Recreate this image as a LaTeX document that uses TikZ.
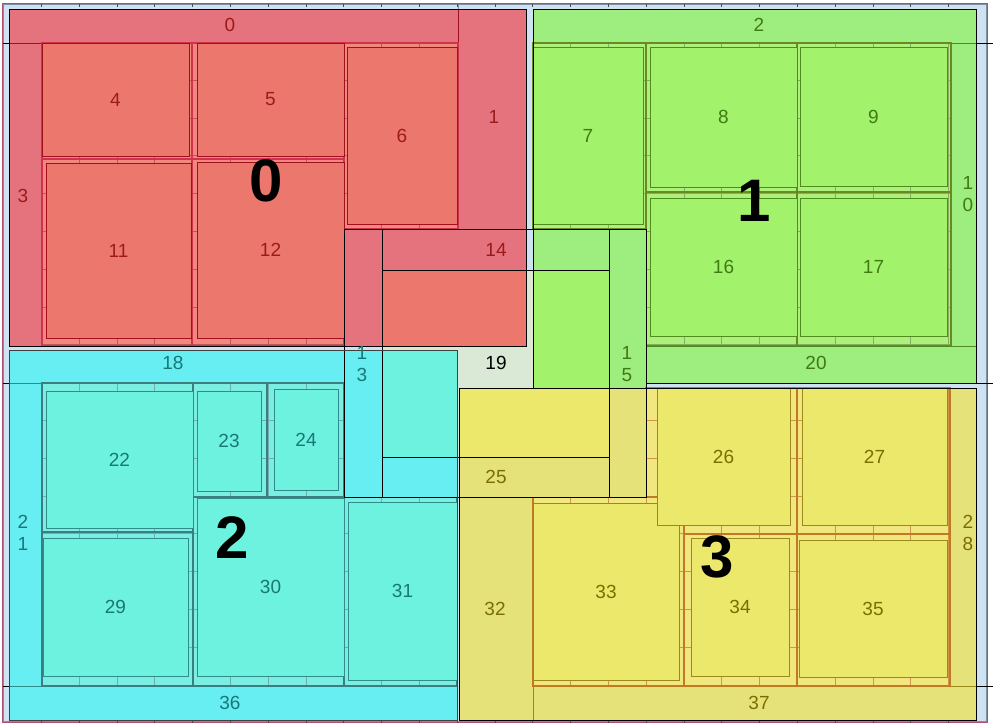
\documentclass[tikz,border=0pt]{standalone}
\usepackage{fontspec}
\setmainfont{Liberation Sans}
\definecolor{bgblue}{HTML}{CFE2F3}
\definecolor{hubc}{HTML}{DAE8D6}
\definecolor{framepink}{HTML}{B05070}
\definecolor{framegray}{HTML}{8090A0}
\definecolor{rband}{HTML}{E5737D}
\definecolor{rbox}{HTML}{EC786D}
\definecolor{rcell}{HTML}{F2877D}
\definecolor{rline}{HTML}{A0101E}
\definecolor{rdiv}{HTML}{C8102E}
\definecolor{rtext}{HTML}{9B1B1B}
\definecolor{gband}{HTML}{9DEE7F}
\definecolor{gbox}{HTML}{A3F26B}
\definecolor{gcell}{HTML}{ADF07B}
\definecolor{gline}{HTML}{4E8C1E}
\definecolor{gdiv}{HTML}{6A8A20}
\definecolor{gtext}{HTML}{3F7A12}
\definecolor{cband}{HTML}{66EEF2}
\definecolor{cbox}{HTML}{6EF2E0}
\definecolor{ccell}{HTML}{7AEEE2}
\definecolor{cline}{HTML}{2E8C8A}
\definecolor{cdiv}{HTML}{3A7E80}
\definecolor{ctext}{HTML}{1A7777}
\definecolor{yband}{HTML}{E6E27A}
\definecolor{ybox}{HTML}{EBE86B}
\definecolor{ycell}{HTML}{F2E67E}
\definecolor{yline}{HTML}{9A8A1A}
\definecolor{ydiv}{HTML}{C07A20}
\definecolor{ytext}{HTML}{7A6E00}
\newcommand\labfont{\fontsize{19}{22}\selectfont}
\newcommand\bigfont{\fontsize{60}{60}\selectfont\bfseries}
\tikzset{
 rbd/.style={fill=rband, draw=rline, line width=0.6pt},
 rbx/.style={fill=rbox, draw=rline, line width=0.9pt},
 rcf/.style={fill=rcell},
 rtk/.style={draw=rline!70, line width=0.5pt},
 rcb/.style={draw=rdiv!85, line width=1.2pt},
 rlb/.style={text=rtext, font=\labfont},
 gbd/.style={fill=gband, draw=gline, line width=0.6pt},
 gbx/.style={fill=gbox, draw=gline, line width=0.9pt},
 gcf/.style={fill=gcell},
 gtk/.style={draw=gline!70, line width=0.5pt},
 gcb/.style={draw=gdiv, line width=1.2pt},
 glb/.style={text=gtext, font=\labfont},
 cbd/.style={fill=cband, draw=cline, line width=0.6pt},
 cbx/.style={fill=cbox, draw=cline, line width=0.9pt},
 ccf/.style={fill=ccell},
 ctk/.style={draw=cline!70, line width=0.5pt},
 ccb/.style={draw=cdiv, line width=1.2pt},
 clb/.style={text=ctext, font=\labfont},
 ybd/.style={fill=yband, draw=yline, line width=0.6pt},
 ybx/.style={fill=ybox, draw=yline, line width=0.9pt},
 ycf/.style={fill=ycell},
 ytk/.style={draw=ydiv!80, line width=0.5pt},
 ycb/.style={draw=ydiv, line width=1.2pt},
 ylb/.style={text=ytext, font=\labfont},
 hubline/.style={draw=black, line width=0.6pt},
 regline/.style={draw=black, line width=0.7pt},
 biglab/.style={text=black, font=\bigfont},
 frametick/.style={draw=black!70, line width=0.5pt},
}
% cell: prefix, x1,y1,x2,y2
\newcommand\mkcell[5]{%
  \fill[#1cf] (#2,#3) rectangle (#4,#5);
  \begin{scope}
    \clip (#2,#3) rectangle (#4,#5);
    \draw[#1tk, xshift=3.4pt, yshift=-4.5pt, step=37.8pt] (-80,820) grid (1080,-80);
  \end{scope}
  \draw[#1cb] (#2,#3) rectangle (#4,#5);
}
% box: prefix, x1,y1,x2,y2,label
\newcommand\mkbox[6]{%
  \draw[#1bx] (#2,#3) rectangle (#4,#5);
  \pgfmathsetmacro\cxx{(#2+#4)/2}%
  \pgfmathsetmacro\cyy{(#3+#5)/2}%
  \node[#1lb] (b#6) at (\cxx,\cyy) {#6};
}
\begin{document}
\begin{tikzpicture}[x=1pt,y=-1pt]
\useasboundingbox (0,0) rectangle (993,726);
\fill[white] (0,0) rectangle (993,726);
% frame
\fill[bgblue] (3,4) rectangle (987,722);
\draw[framepink, line width=0.7pt] (2.5,3.5) rectangle (987.5,722.5);
\draw[framegray, line width=0.6pt] (3.5,4.5) rectangle (986.5,721.5);
\foreach \k in {1,...,25} {
  \draw[frametick] ({3.4+37.8*\k},3.5) -- ++(0,3);
  \draw[frametick] ({3.4+37.8*\k},722.5) -- ++(0,-3);
}
% hub (19)
\fill[hubc] (382,270) rectangle (609,457);

% ===== red region 0 =====
\draw[rbd] (9,9) rectangle (458,43);
\draw[rbd] (458,9) rectangle (526,229);
\draw[rbd] (9,43) rectangle (42,346);
\mkcell{r}{42}{43}{192}{159}
\mkcell{r}{192}{43}{344}{159}
\mkcell{r}{344}{43}{458}{229}
\mkcell{r}{42}{159}{192}{346}
\mkcell{r}{192}{159}{344}{346}
\mkbox{r}{42}{43}{189}{156}{4}
\mkbox{r}{197}{43}{344}{156}{5}
\mkbox{r}{347}{47}{457}{224}{6}
\mkbox{r}{46}{163}{191}{338}{11}
\mkbox{r}{197}{162}{344}{338}{12}
\fill[rband] (344,229) rectangle (382,346);
\fill[rband] (382,229) rectangle (526,270);
\fill[rbox] (382,270) rectangle (526,346);

% ===== green region 1 =====
\draw[gbd] (533,9) rectangle (976,43);
\draw[gbd] (951,43) rectangle (976,383);
\mkcell{g}{533}{43}{646}{229}
\mkcell{g}{646}{43}{797}{192}
\mkcell{g}{797}{43}{951}{192}
\mkcell{g}{646}{192}{797}{346}
\mkcell{g}{797}{192}{951}{346}
\mkbox{g}{533}{47}{643}{224}{7}
\mkbox{g}{650}{47}{797}{187}{8}
\mkbox{g}{800}{47}{947}{186}{9}
\mkbox{g}{650}{198}{797}{336}{16}
\mkbox{g}{800}{198}{947}{336}{17}
\draw[gbd] (646,346) rectangle (976,383);
\fill[gband] (533,229) rectangle (609,270);
\fill[gbox] (533,270) rectangle (609,388);
\fill[gband] (609,229) rectangle (646,388);

% ===== cyan region 2 =====
\draw[cbd] (9,350) rectangle (344,383);
\draw[cbd] (9,383) rectangle (42,686);
\draw[cbd] (9,686) rectangle (457,720);
\mkcell{c}{42}{383}{193}{532}
\mkcell{c}{193}{383}{267}{497}
\mkcell{c}{267}{383}{344}{497}
\mkcell{c}{42}{532}{193}{686}
\mkcell{c}{193}{497}{344}{686}
\mkcell{c}{344}{497}{457}{686}
\mkbox{c}{46}{391}{193}{528}{22}
\mkbox{c}{197}{391}{261}{491}{23}
\mkbox{c}{274}{389}{338}{490}{24}
\mkbox{c}{43}{538}{188}{676}{29}
\mkbox{c}{197}{498}{344}{676}{30}
\mkbox{c}{348}{502}{457}{680}{31}
\fill[cband] (344,350) rectangle (382,497);
\draw[cbx] (382,350) rectangle (457,457);
\fill[cband] (382,457) rectangle (457,497);

% ===== yellow region 3 =====
\draw[ybd] (459,497) rectangle (533,720);
\draw[ybd] (533,686) rectangle (976,720);
\draw[ybd] (950,388) rectangle (976,686);
\mkcell{y}{646}{388}{797}{534}
\mkcell{y}{797}{388}{950}{534}
\mkcell{y}{533}{497}{684}{686}
\mkcell{y}{684}{534}{797}{686}
\mkcell{y}{797}{534}{950}{686}
\mkbox{y}{533}{503}{679}{680}{33}
\mkbox{y}{657}{388}{790}{525}{26}
\mkbox{y}{802}{388}{947}{525}{27}
\mkbox{y}{691}{538}{789}{676}{34}
\mkbox{y}{799}{540}{947}{677}{35}
\fill[ybox] (459,388) rectangle (609,457);
\fill[yband] (459,457) rectangle (609,497);
\fill[yband] (609,388) rectangle (646,497);

% ===== hub ring outlines =====
\draw[hubline] (382,229) rectangle (609,270);
\draw[hubline] (382,457) rectangle (609,497);
\draw[hubline] (344,229) rectangle (382,497);
\draw[hubline] (609,229) rectangle (646,497);
\draw[hubline] (382,270) rectangle (609,457);

% ===== region outlines =====
\draw[regline] (9,9) rectangle (526,346);
\draw[regline] (533,388) -- (533,9) -- (976,9) -- (976,383) -- (646,383);
\draw[regline, draw=black!75] (9,350) rectangle (457,720);
\draw[regline] (459,388) rectangle (976,720);
% guide stubs
\draw[regline] (3,43) -- (9,43);
\draw[regline] (976,43) -- (993,43);
\draw[regline] (3,383) -- (9,383);
\draw[regline] (976,383) -- (993,383);
\draw[regline] (3,686) -- (9,686);
\draw[regline] (976,686) -- (993,686);
\draw[framegray, line width=0.6pt] (458,4) -- (458,9);

% ===== band labels =====
\node[rlb] (l0) at (230,25) {0};
\node[rlb] (l1) at (494,117) {1};
\node[rlb] (l3) at (23,196) {3};
\node[rlb] (l14) at (496,250) {14};
\node[clb, align=center] (l13) at (362,364) {1\\3};
\node[glb] (l2) at (759,25) {2};
\node[glb, align=center] (l10) at (968,194) {1\\0};
\node[glb, align=center] (l15) at (627,364) {1\\5};
\node[glb] (l20) at (816,363) {20};
\node[clb] (l18) at (173,363) {18};
\node[clb, align=center] (l21) at (23,533) {2\\1};
\node[clb] (l36) at (230,703) {36};
\node[ylb] (l25) at (496,477) {25};
\node[ylb] (l32) at (495,609) {32};
\node[ylb] (l37) at (759,703) {37};
\node[ylb, align=center] (l28) at (968,533) {2\\8};
\node[font=\labfont, text=black] (l19) at (496,363) {19};

% ===== big region labels =====
\node[biglab] (g0) at (266,181) {0};
\node[biglab] (g1) at (754,201) {1};
\node[biglab] (g2) at (232,538) {2};
\node[biglab] (g3) at (717,557) {3};
\end{tikzpicture}
\end{document}
